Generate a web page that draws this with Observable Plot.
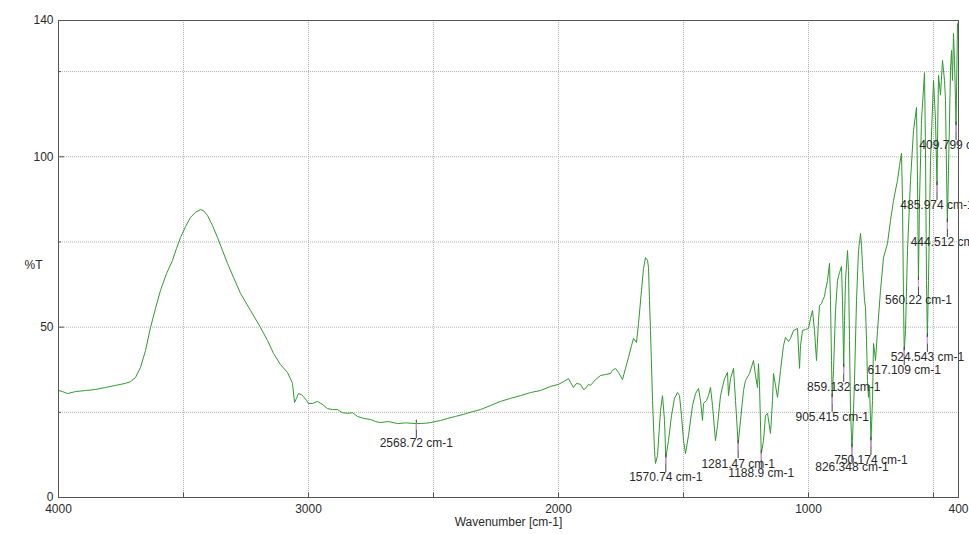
<!DOCTYPE html>
<html><head><meta charset="utf-8">
<script src="https://cdn.jsdelivr.net/npm/d3@7"></script>
<script src="https://cdn.jsdelivr.net/npm/@observablehq/plot@0.6"></script>
<style>
html,body{margin:0;padding:0;background:#fff;overflow:hidden;}
#chart{width:969px;height:534px;overflow:hidden;}
</style></head><body><div id="chart"></div>
<script>
const wavenumber = [4000,3984,3964,3932,3892,3852,3812,3772,3732,3712,3692,3672,3652,3632,3612,3592,3568,3544,3528,3512,3492,3472,3452,3432,3420,3404,3384,3364,3344,3324,3300,3272,3232,3192,3164,3140,3112,3084,3064,3056,3048,3040,3028,3020,3008,3000,2984,2964,2944,2924,2904,2884,2864,2844,2824,2804,2780,2752,2732,2712,2680,2644,2612,2568.72,2532,2512,2472,2444,2412,2380,2344,2312,2272,2232,2192,2152,2112,2072,2032,2000,1980,1960,1952,1940,1928,1912,1900,1892,1880,1872,1852,1832,1812,1792,1784,1772,1760,1744,1732,1720,1708,1700,1688,1680,1668,1660,1652,1644,1640,1636,1632,1624,1616,1612,1604,1592,1584,1576,1570.74,1560,1548,1536,1524,1516,1508,1500,1492,1480,1464,1452,1440,1432,1424,1420,1408,1400,1392,1384,1372,1364,1352,1336,1324,1320,1312,1300,1292,1281.47,1272,1260,1252,1236,1220,1212,1204,1200,1196,1188.9,1180,1172,1164,1152,1144,1140,1132,1124,1112,1100,1092,1080,1072,1060,1044,1036,1032,1024,1012,1000,992,984,976,968,960,956,948,944,936,932,924,916,912,908,905.415,900,892,884,876,868,864,859.132,856,852,844,840,836,832,826.348,824,816,808,800,792,788,784,776,772,768,764,760,756,752,750.174,744,740,736,732,724,712,700,684,672,660,644,636,628,624,620,617.109,612,604,592,580,568,564,560.22,556,548,536,532,528,524.543,520,512,500,492,485.974,484,480,472,464,456,452,448,444.512,440,432,428,424,420,416,412,409.799,404,400];
const transmittance = [31.4,31.1,30.5,31.1,31.4,31.7,32.3,32.9,33.5,34.0,35.2,38.2,43.1,49.9,55.5,60.8,65.7,69.6,73.1,76.3,79.5,82.2,83.7,84.5,84.2,82.8,79.8,76.3,72.5,68.7,64.6,59.9,54.9,49.9,46.1,42.3,39.0,36.7,33.5,27.9,29.1,30.5,30.2,29.6,28.5,27.6,27.6,28.2,27.3,26.1,25.8,25.8,24.9,24.7,24.9,23.8,23.2,22.9,22.3,22.0,22.3,21.7,21.9,21.7,21.8,22.0,22.6,23.2,23.8,24.4,25.2,25.8,27.0,28.2,29.1,29.9,30.8,31.4,32.6,33.2,34.0,34.9,33.8,32.3,33.5,33.2,31.7,32.0,33.2,32.9,34.6,35.8,36.1,36.4,37.3,37.9,36.7,34.6,37.9,41.1,44.6,46.7,45.5,51.1,60.8,67.2,70.4,69.6,67.5,57.8,49.0,28.5,13.8,10.0,12.3,25.5,29.9,22.6,11.7,16.7,24.1,29.1,30.8,29.9,24.1,16.7,12.9,18.2,27.0,30.5,32.0,28.5,22.6,27.6,28.5,29.9,32.3,27.0,16.7,21.1,29.9,34.9,36.7,29.9,34.9,37.9,28.5,15.8,22.6,31.4,34.3,36.4,40.2,35.8,32.3,39.3,32.9,12.9,16.7,24.1,24.7,18.8,28.5,36.4,32.9,29.4,37.3,44.6,47.0,45.8,46.7,49.0,49.6,37.9,44.6,49.0,49.3,49.6,52.5,54.9,49.0,40.2,52.0,56.4,56.9,57.8,59.0,60.8,63.7,68.7,57.8,40.2,29.4,37.3,54.9,63.7,66.0,67.8,57.8,38.2,52.0,63.7,72.5,66.6,46.1,25.5,14.7,16.7,34.3,57.8,72.5,77.5,74.0,68.1,57.8,55.8,46.1,34.3,29.4,32.9,22.6,16.7,28.5,45.2,43.1,40.2,49.0,60.8,70.4,74.6,81.3,87.2,93.1,97.4,101.0,87.2,57.8,43.1,49.0,72.5,93.1,107.7,114.5,93.1,63.7,87.2,110.7,124.7,101.8,63.7,47.0,63.7,98.9,122.4,110.7,91.6,104.4,123.9,118.1,128.3,122.4,116.5,96.0,80.7,96.0,125.5,131.2,122.4,136.2,128.3,116.5,109.2,139.1,139.5];

const peakWavenumbers = [2568.72,1570.74,1281.47,1188.9,905.415,859.132,826.348,750.174,617.109,560.22,524.543,485.974,444.512,409.799];
const peakTransmittance = [21.7,11.7,15.8,12.9,29.4,38.2,14.7,16.7,43.1,63.7,47.0,91.6,80.7,109.2];
const peakLabels = ["2568.72 cm-1","1570.74 cm-1","1281.47 cm-1","1188.9 cm-1","905.415 cm-1","859.132 cm-1","826.348 cm-1","750.174 cm-1","617.109 cm-1","560.22 cm-1","524.543 cm-1","485.974 cm-1","444.512 cm-1","409.799 cm-1"];

const xTickLabels = [4000,3000,2000,1000,400];
const xTickMarks = [3500,3000,2500,2000,1500,1000,500];
const xGrid = [3500,3000,2500,2000,1500,1000,500];
const yTickLabels = [0,50,100,140];
const yMajorTicks = [50,100];
const yMinorTicks = [25,75,125];
const yGrid = [25,50,75,100,125];
const xTitle = "Wavenumber [cm-1]";
const yTitle = "%T";

const spectrum = wavenumber.map((w,i)=>({w, t: transmittance[i]}));
const peaks = peakWavenumbers.map((w,i)=>({w, t: peakTransmittance[i], label: peakLabels[i]}));

const font = "'Liberation Sans', Arial, sans-serif";
const ink = "#2a2a2a";
const axisGray = "#555";

const chart = Plot.plot({
  width: 969, height: 534,
  marginLeft: 58, marginRight: 11, marginTop: 20, marginBottom: 37,
  style: {fontFamily: font, fontSize: "12px", color: ink, background: "#fff"},
  x: {domain: [4000, 400]},
  y: {domain: [0, 140]},
  marks: [
    Plot.gridX(xGrid, {stroke: "#b0b0b0", strokeOpacity: 1, strokeDasharray: "1,1"}),
    Plot.gridY(yGrid, {stroke: "#b0b0b0", strokeOpacity: 1, strokeDasharray: "1,1"}),
    Plot.axisX(xTickLabels, {tickSize: 0, tickPadding: 7, tickFormat: "d", label: null, fontSize: 12, fill: ink}),
    Plot.axisY(yTickLabels, {tickSize: 0, tickPadding: 5, tickFormat: "d", label: null, fontSize: 12, fill: ink}),
    Plot.ruleX(xTickMarks, {y1: 0, y2: 1.3, stroke: axisGray}),
    Plot.ruleY(yMajorTicks, {x1: 4000, x2: 3976, stroke: axisGray}),
    Plot.ruleY(yMinorTicks, {x1: 4000, x2: 3988, stroke: axisGray}),
    Plot.line(spectrum, {x: "w", y: "t", stroke: "#2f9a2f", strokeWidth: 1}),
    Plot.ruleX(peaks, {x: "w", y1: d => d.t + 1, y2: d => d.t - 4.4, stroke: "#444"}),
    Plot.ruleX(peaks, {x: "w", y1: "t", y2: d => d.t - 2, stroke: "#f09cf0"}),
    Plot.text(peaks, {x: "w", y: "t", text: "label", dy: 20, fill: ink, fontSize: 12}),
    Plot.frame({stroke: axisGray}),
    Plot.text([yTitle], {text: d => d, frameAnchor: "left", dx: -34, dy: 6, fill: ink, fontSize: 12}),
    Plot.text([xTitle], {text: d => d, frameAnchor: "bottom", dy: 28, fill: ink, fontSize: 12})
  ]
});
document.getElementById("chart").appendChild(chart);
</script>
</body></html>
